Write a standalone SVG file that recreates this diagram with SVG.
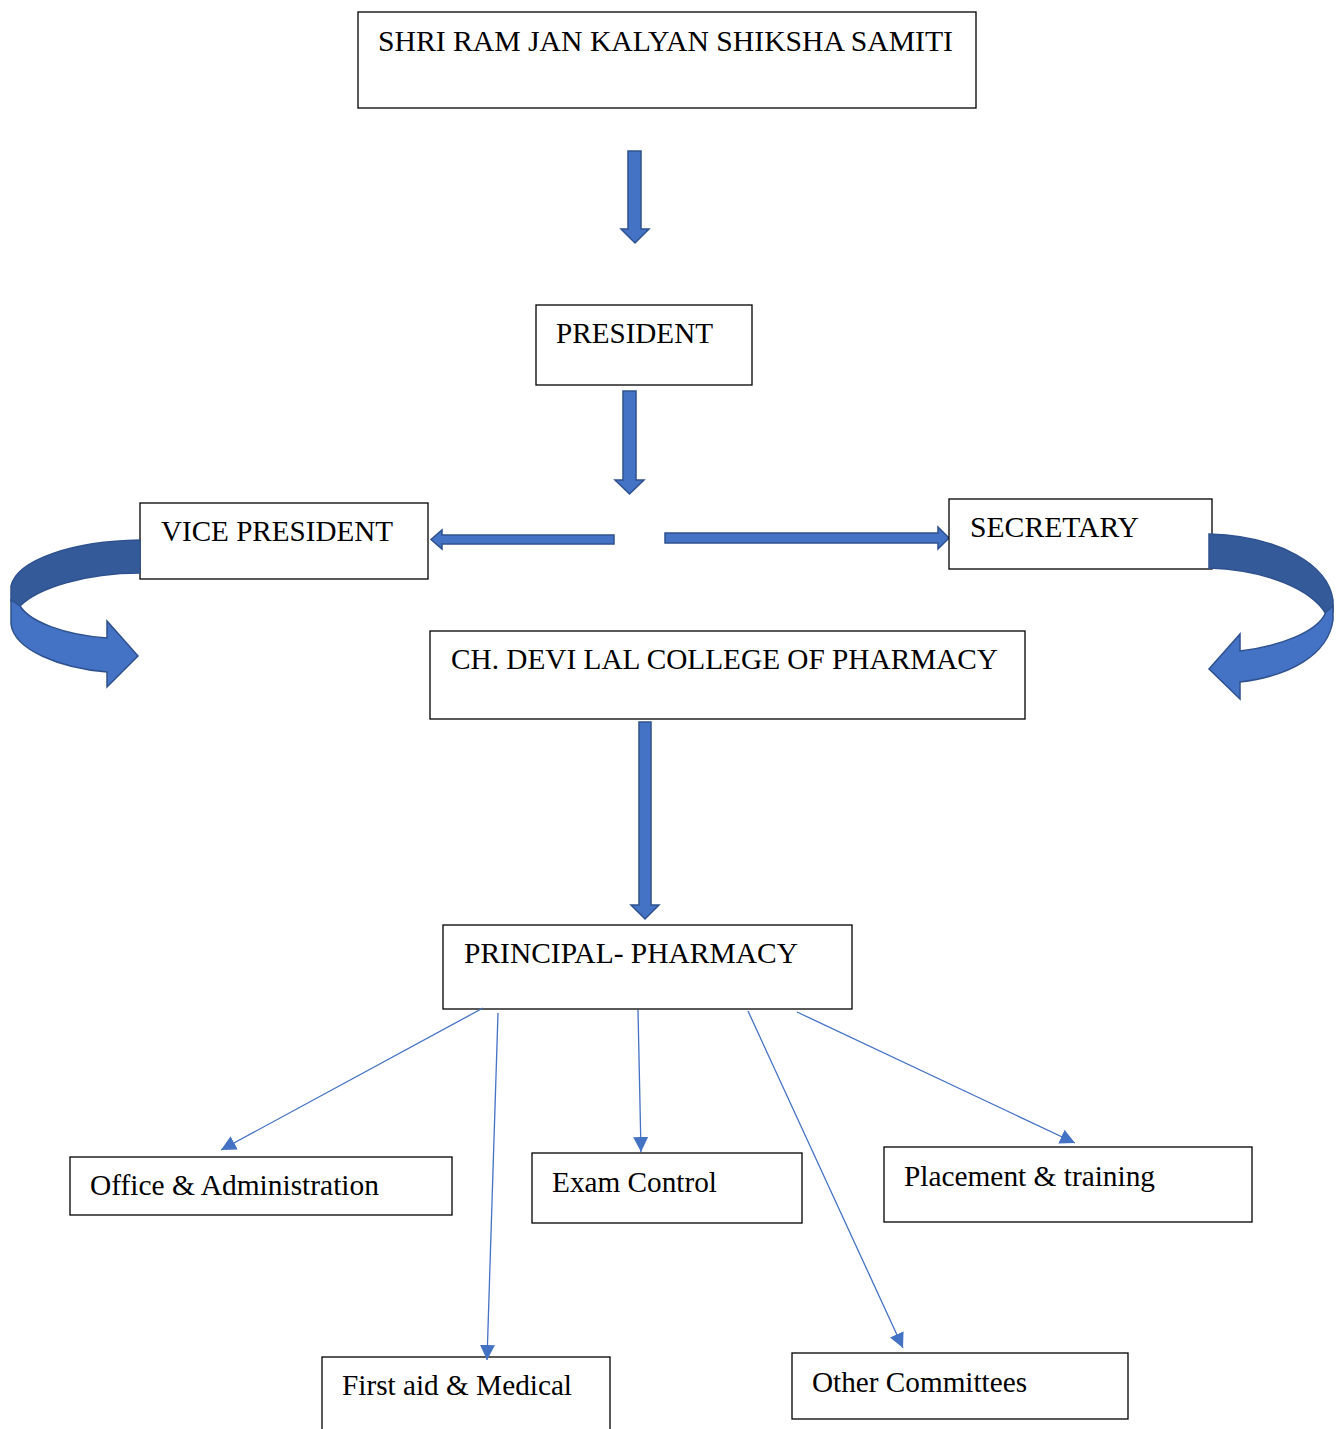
<svg xmlns="http://www.w3.org/2000/svg" width="1338" height="1429" viewBox="0 0 1338 1429">
<style>
.box{fill:#fff;stroke:#000;stroke-width:1.3}
.t{font-family:"Liberation Serif","Times New Roman",serif;font-size:29px;fill:#000}
.blk{fill:#4472C4;stroke:#2F528F;stroke-width:1.5;stroke-linejoin:miter}
.dark{fill:#345A9A;stroke:#2F528F;stroke-width:1.5}
.con{stroke:#4472C4;stroke-width:1.3;fill:none;marker-end:url(#tri)}
</style>
<defs>
<marker id="tri" markerUnits="userSpaceOnUse" markerWidth="15" markerHeight="15" refX="15" refY="7.5" orient="auto">
<path d="M0,0 L15,7.5 L0,15 Z" fill="#4472C4"/>
</marker>
</defs>
<rect width="1338" height="1429" fill="#fff"/>

<g id="block-arrows">
<path class="blk" d="M628,151 H641 V229 H649 L635,243 L621,229 H628 Z"/>
<path class="blk" d="M623,391 H636 V480 H644 L629.5,494 L615,480 H623 Z"/>
<path class="blk" d="M614,535 V544 H442 V549 L431,539.5 L442,530 V535 Z"/>
<path class="blk" d="M665,533 H938 V527 L949,538 L938,549 V543 H665 Z"/>
<path class="blk" d="M639,722 H651 V905 H659 L645,919 L631,905 H639 Z"/>
</g>

<g id="n-samiti"><rect class="box" x="358" y="12" width="618" height="96"/><text class="t" x="378" y="51" textLength="575" lengthAdjust="spacingAndGlyphs">SHRI RAM JAN KALYAN SHIKSHA SAMITI</text></g>
<g id="n-president"><rect class="box" x="536" y="305" width="216" height="80"/><text class="t" x="556" y="343" textLength="157" lengthAdjust="spacingAndGlyphs">PRESIDENT</text></g>
<g id="n-vice"><rect class="box" x="140" y="503" width="288" height="76"/><text class="t" x="161" y="541" textLength="232" lengthAdjust="spacingAndGlyphs">VICE PRESIDENT</text></g>
<g id="n-secretary"><rect class="box" x="949" y="499" width="263" height="70"/><text class="t" x="970" y="537" textLength="169" lengthAdjust="spacingAndGlyphs">SECRETARY</text></g>
<g id="n-college"><rect class="box" x="430" y="631" width="595" height="88"/><text class="t" x="451" y="669" textLength="547" lengthAdjust="spacingAndGlyphs">CH. DEVI LAL COLLEGE OF PHARMACY</text></g>
<g id="n-principal"><rect class="box" x="443" y="925" width="409" height="84"/><text class="t" x="464" y="963" textLength="334" lengthAdjust="spacingAndGlyphs">PRINCIPAL- PHARMACY</text></g>
<g id="n-office"><rect class="box" x="70" y="1157" width="382" height="58"/><text class="t" x="90" y="1195" textLength="289" lengthAdjust="spacingAndGlyphs">Office &amp; Administration</text></g>
<g id="n-exam"><rect class="box" x="532" y="1153" width="270" height="70"/><text class="t" x="552" y="1192" textLength="165" lengthAdjust="spacingAndGlyphs">Exam Control</text></g>
<g id="n-placement"><rect class="box" x="884" y="1147" width="368" height="75"/><text class="t" x="904" y="1186" textLength="251" lengthAdjust="spacingAndGlyphs">Placement &amp; training</text></g>
<g id="n-firstaid"><rect class="box" x="322" y="1357" width="288" height="80"/><text class="t" x="342" y="1395" textLength="230" lengthAdjust="spacingAndGlyphs">First aid &amp; Medical</text></g>
<g id="n-other"><rect class="box" x="792" y="1353" width="336" height="66"/><text class="t" x="812" y="1392" textLength="215" lengthAdjust="spacingAndGlyphs">Other Committees</text></g>

<g id="curved-arrows">
<path class="dark" d="M140,540 C72,541 17,560 11,586 L11,601 L20,606 C38,588 85,573 140,573 Z"/>
<path class="blk" d="M11,600 L11,624 C14,650 60,668 107,672 L107,687 L138,656 L107,621 L107,638 C65,635 30,622 20,606 Z"/>
<path class="dark" d="M1209,534 C1280,536 1328,565 1333,600 L1333,612 L1326,614 C1312,590 1268,570 1209,568 Z"/>
<path class="blk" d="M1333,606 L1333,620 C1328,655 1290,676 1240,682 L1240,699 L1209,669 L1240,634 L1240,651 C1280,646 1318,632 1326,612 Z"/>
</g>

<g id="connectors">
<path class="con" d="M483,1008 L221,1150"/>
<path class="con" d="M498,1013 L487,1360"/>
<path class="con" d="M638,1010 L641,1152"/>
<path class="con" d="M748,1011 L903,1348"/>
<path class="con" d="M797,1012 L1075,1143"/>
</g>
</svg>
